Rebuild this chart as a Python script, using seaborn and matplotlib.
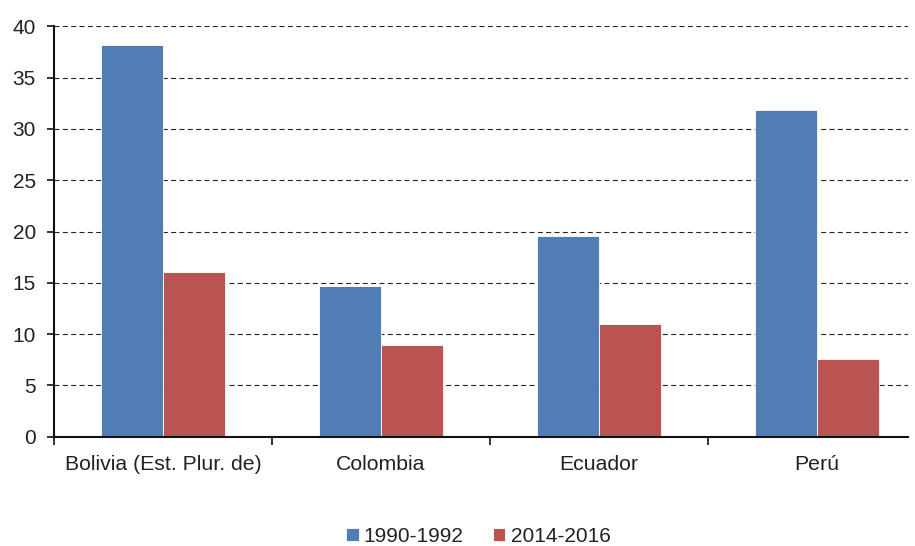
import pandas as pd
import numpy as np
import matplotlib.pyplot as plt
import seaborn as sns

sns.set_theme(style="white")
plt.rcParams['font.family'] = ['Liberation Sans', 'DejaVu Sans']

# Datos
paises = ['Bolivia (Est. Plur. de)', 'Colombia', 'Ecuador', 'Perú']
periodos = ['1990-1992', '2014-2016']
valores_1990 = [38.2, 14.7, 19.6, 31.8]
valores_2014 = [16.1, 8.9, 11.0, 7.6]
colores = ['#4F7DB4', '#BA5453']

df = pd.DataFrame({
    'pais': paises * 2,
    'periodo': [periodos[0]] * 4 + [periodos[1]] * 4,
    'valor': valores_1990 + valores_2014,
})

fig = plt.figure(figsize=(9.15, 5.46), dpi=100)
ax = fig.add_axes([0.059, 0.2, 0.933, 0.752])

ax.set_axisbelow(True)
ax.yaxis.grid(True, color='#222222', linestyle=(0, (4.5, 3)), linewidth=0.8)

sns.barplot(data=df, x='pais', y='valor', hue='periodo', palette=colores,
            width=0.57, gap=0, edgecolor='white', linewidth=0.6,
            saturation=1, ax=ax)

ax.set_xlim(-0.5, 3.417)
ax.set_ylim(0, 40)
ax.set_yticks(np.arange(0, 41, 5))
ax.set_xlabel('')
ax.set_ylabel('')

for s in ['top', 'right']:
    ax.spines[s].set_visible(False)
for s in ['left', 'bottom']:
    ax.spines[s].set_color('#111111')
    ax.spines[s].set_linewidth(1.5)

ax.tick_params(axis='y', left=True, length=5, width=1.2, color='#111111',
               labelsize=15, labelcolor='#222222', pad=8)
ax.tick_params(axis='x', which='major', length=0, labelsize=15.3,
               labelcolor='#222222', pad=13)
ax.set_xticks(np.arange(-0.5, 3, 1), minor=True)
ax.tick_params(axis='x', which='minor', bottom=True, length=6, width=1.2,
               color='#111111')

ax.legend(loc='center', bbox_to_anchor=(0.497, -0.243), ncol=2,
          frameon=False, fontsize=15, handlelength=0.6, handleheight=0.6,
          handletextpad=0.25, columnspacing=1.4, labelcolor='#222222')

fig.savefig('out.png', dpi=100)
